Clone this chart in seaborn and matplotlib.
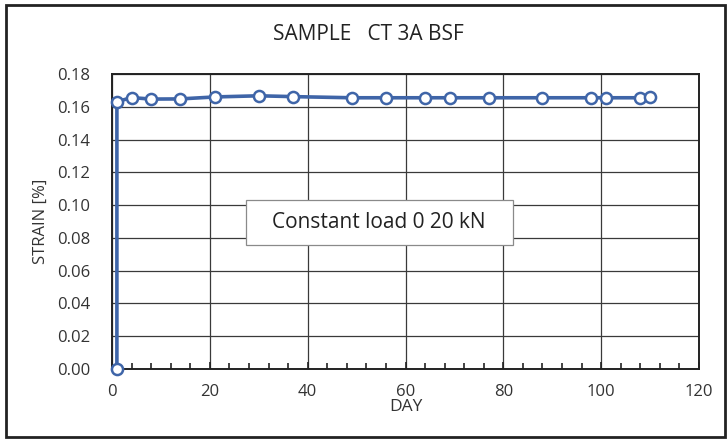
import matplotlib
matplotlib.use('Agg')
import matplotlib.pyplot as plt
import matplotlib.patches as mpatches
from matplotlib.ticker import MultipleLocator, FormatStrFormatter
import pandas as pd
import seaborn as sns

# data
days = [1, 1, 4, 8, 14, 21, 30, 37, 49, 56, 64, 69, 77, 88, 98, 101, 108, 110]
strain = [0.000, 0.1631, 0.1656, 0.1647, 0.1648, 0.1660, 0.1667, 0.1662, 0.1655,
          0.1655, 0.1655, 0.1655, 0.1655, 0.1655, 0.1655, 0.1655, 0.1655, 0.1657]
title = 'SAMPLE   CT 3A BSF'
note = 'Constant load 0 20 kN'

df = pd.DataFrame({'DAY': days, 'STRAIN': strain})

sns.set_style('white')
plt.rcParams['font.family'] = ['Open Sans', 'DejaVu Sans']

fig = plt.figure(figsize=(7.28, 4.4), dpi=100)
ax = fig.add_axes([112 / 728, 1 - 369 / 440, 587 / 728, 295 / 440])

blue = '#3F65A8'
sns.lineplot(data=df, x='DAY', y='STRAIN', ax=ax, sort=False, estimator=None,
             color=blue, linewidth=2.6, marker='o', markersize=8,
             markerfacecolor='white', markeredgecolor=blue, markeredgewidth=1.8,
             zorder=5, clip_on=False)

ax.set_xlim(0, 120)
ax.set_ylim(0, 0.18)
ax.xaxis.set_major_locator(MultipleLocator(20))
ax.xaxis.set_minor_locator(MultipleLocator(4))
ax.yaxis.set_major_locator(MultipleLocator(0.02))
ax.yaxis.set_major_formatter(FormatStrFormatter('%.2f'))
ax.grid(True, which='major', color='#3a3a3a', linewidth=0.9)
ax.set_axisbelow(True)
for s in ax.spines.values():
    s.set_color('#222222')
    s.set_linewidth(1.4)
ax.tick_params(axis='x', which='both', direction='in', bottom=True, length=5,
               width=1.2, color='#222222', labelsize=12, labelcolor='#333333', pad=11)
ax.tick_params(axis='x', which='minor', length=4)
ax.tick_params(axis='y', left=False, labelsize=12, labelcolor='#333333', pad=12)

ax.set_xlabel('DAY', fontsize=12.5, color='#333333', labelpad=-1)
ax.set_ylabel('STRAIN [%]', fontsize=12, color='#333333', labelpad=6)

fig.text(368 / 728, 1 - 35 / 440, title, ha='center', va='center', fontsize=15,
         color='#222222')

# annotation box
ax.add_patch(mpatches.Rectangle(((246 - 112) / 587, (369 - 245) / 295),
                                267 / 587, 45 / 295, transform=ax.transAxes,
                                facecolor='white', edgecolor='#8a8a8a',
                                linewidth=0.9, zorder=6))
ax.text((379 - 112) / 587, (369 - 222) / 295, note, transform=ax.transAxes,
        ha='center', va='center', fontsize=15, color='#222222', zorder=7)

fig.patches.append(mpatches.Rectangle((6 / 728, 3 / 440), 719 / 728, 432 / 440,
                                      transform=fig.transFigure, fill=False,
                                      edgecolor='#222222', linewidth=2))

fig.savefig('out.png', dpi=100)
